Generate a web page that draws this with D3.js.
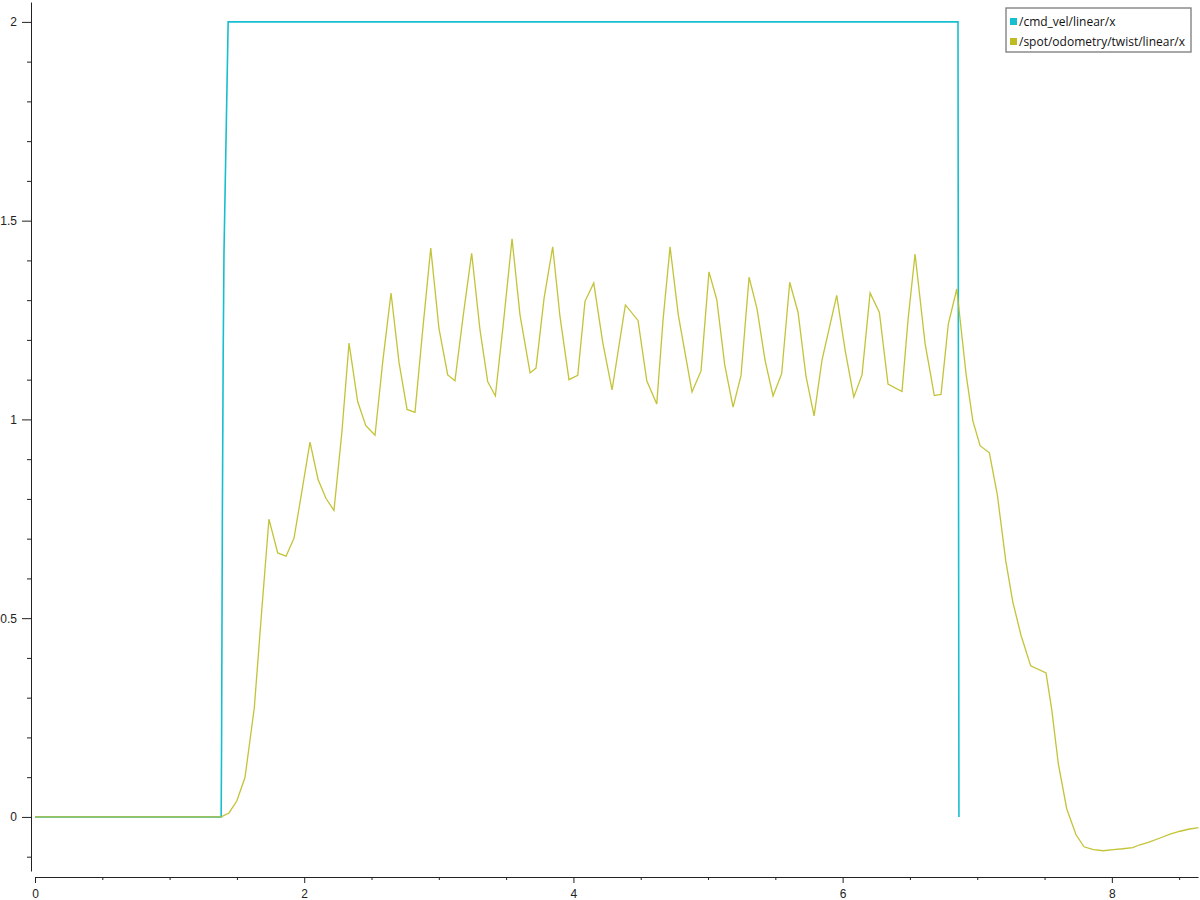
<!DOCTYPE html>
<html>
<head>
<meta charset="utf-8">
<script src="https://cdn.jsdelivr.net/npm/d3@7"></script>
<style>
  body { margin: 0; background: #fff; }
  svg { display: block; font-family: "Open Sans", sans-serif; }
  .tick text { font-size: 12px; fill: #222; }
  .axis path, .axis line { stroke: #222; }
</style>
</head>
<body>
<div id="chart"></div>
<script>
// series names (legend)
var seriesNames = ["/cmd_vel/linear/x", "/spot/odometry/twist/linear/x"];
var seriesColors = ["#17becf", "#bcbd22"];

// /cmd_vel/linear/x
var cmdTime  = [0, 1.383, 1.386, 1.392, 1.398, 1.404, 1.435, 6.857, 6.864];
var cmdValue = [0, 0,     0.18,  0.76,  1.16,  1.42,  2,     2,     0];

// /spot/odometry/twist/linear/x
var odomTime = [0, 1.383, 1.441, 1.499, 1.560, 1.629, 1.684, 1.738, 1.803, 1.865, 1.924,
  1.981, 2.043, 2.103, 2.162, 2.221, 2.279, 2.333, 2.397, 2.457, 2.526,
  2.583, 2.645, 2.704, 2.764, 2.823, 2.880, 2.940, 3.001, 3.066, 3.120,
  3.180, 3.244, 3.306, 3.363, 3.420, 3.484, 3.544, 3.603, 3.678, 3.722,
  3.782, 3.846, 3.900, 3.967, 4.032, 4.086, 4.151, 4.218, 4.287, 4.386,
  4.480, 4.545, 4.619, 4.666, 4.718, 4.779, 4.881, 4.948, 5.007, 5.065,
  5.124, 5.186, 5.245, 5.305, 5.364, 5.423, 5.483, 5.547, 5.607, 5.669,
  5.728, 5.788, 5.847, 5.956, 6.018, 6.083, 6.144, 6.204, 6.273, 6.337,
  6.441, 6.486, 6.538, 6.612, 6.681, 6.731, 6.785, 6.848, 6.917, 6.967,
  7.021, 7.090, 7.149, 7.212, 7.264, 7.325, 7.397, 7.511, 7.553, 7.603,
  7.665, 7.734, 7.793, 7.863, 7.937, 8.011, 8.081, 8.155, 8.209, 8.271,
  8.358, 8.432, 8.507, 8.568, 8.643];
var odomValue = [0, 0, 0.010, 0.040, 0.099, 0.274, 0.517, 0.749, 0.664, 0.656, 0.701,
  0.816, 0.943, 0.849, 0.801, 0.771, 0.965, 1.192, 1.045, 0.985, 0.960,
  1.144, 1.318, 1.144, 1.025, 1.018, 1.224, 1.431, 1.229, 1.112, 1.097,
  1.258, 1.418, 1.225, 1.095, 1.059, 1.256, 1.454, 1.263, 1.117, 1.129,
  1.305, 1.434, 1.259, 1.100, 1.111, 1.297, 1.343, 1.193, 1.074, 1.288,
  1.249, 1.097, 1.039, 1.251, 1.434, 1.263, 1.069, 1.122, 1.371, 1.301,
  1.137, 1.031, 1.110, 1.358, 1.278, 1.150, 1.059, 1.115, 1.345, 1.269,
  1.108, 1.009, 1.150, 1.312, 1.175, 1.056, 1.112, 1.318, 1.269, 1.089,
  1.070, 1.251, 1.416, 1.192, 1.060, 1.063, 1.240, 1.328, 1.114, 0.997,
  0.934, 0.916, 0.811, 0.644, 0.541, 0.457, 0.380, 0.362, 0.271, 0.132,
  0.020, -0.045, -0.075, -0.082, -0.085, -0.082, -0.080, -0.077, -0.070, -0.064,
  -0.053, -0.043, -0.036, -0.031, -0.027];

// axis ticks
var xMajorTicks = [0, 2, 4, 6, 8];
var xMinorTicks = [0.5, 1, 1.5, 2.5, 3, 3.5, 4.5, 5, 5.5, 6.5, 7, 7.5, 8.5];
var yMajorTicks = [0, 0.5, 1, 1.5, 2];
var yTickLabels = ["0", "0.5", "1", "1.5", "2"];
var yMinorTicks = [-0.1, 0.1, 0.2, 0.3, 0.4, 0.6, 0.7, 0.8, 0.9, 1.1, 1.2, 1.3, 1.4, 1.6, 1.7, 1.8, 1.9];

var svgWidth = 1200, svgHeight = 900;
var plot = { left: 35, right: 1198, top: 2, bottom: 871 };

var svg = d3.select("#chart").append("svg")
  .attr("width", svgWidth)
  .attr("height", svgHeight);

var xScale = d3.scaleLinear().domain([0, 8.64]).range([plot.left, plot.right]);
var yScale = d3.scaleLinear().domain([-0.136, 2.05]).range([plot.bottom, plot.top]);

// y axis: major + minor ticks
var yAxisG = svg.append("g").attr("class", "axis")
  .attr("transform", "translate(31,0)")
  .call(d3.axisLeft(yScale).tickValues(yMajorTicks).tickSize(9).tickSizeOuter(0)
    .tickPadding(5)
    .tickFormat(function(d, i) { return yTickLabels[i]; }));
svg.append("g").attr("class", "axis")
  .attr("transform", "translate(31,0)")
  .call(d3.axisLeft(yScale).tickValues(yMinorTicks).tickSize(4).tickSizeOuter(0).tickFormat(""))
  .select(".domain").remove();

// x axis
svg.append("g").attr("class", "axis")
  .attr("transform", "translate(0,877)")
  .call(d3.axisBottom(xScale).tickValues(xMajorTicks).tickSize(6).tickSizeOuter(0)
    .tickPadding(6).tickFormat(d3.format("d")));
svg.append("g").attr("class", "axis")
  .attr("transform", "translate(0,877)")
  .call(d3.axisBottom(xScale).tickValues(xMinorTicks).tickSize(3).tickSizeOuter(0).tickFormat(""))
  .select(".domain").remove();

// lines
var line = d3.line()
  .x(function(d) { return xScale(d[0]); })
  .y(function(d) { return yScale(d[1]); });

var cmdData = d3.zip(cmdTime, cmdValue);
var odomData = d3.zip(odomTime, odomValue);

svg.append("path")
  .datum(cmdData)
  .attr("fill", "none")
  .attr("stroke", seriesColors[0])
  .attr("stroke-width", 1.6)
  .attr("d", line);

svg.append("path")
  .datum(odomData)
  .attr("fill", "none")
  .attr("stroke", seriesColors[1])
  .attr("stroke-width", 1.3)
  .attr("stroke-opacity", 0.9)
  .attr("d", line);

// legend
var legend = svg.append("g").attr("transform", "translate(1006,8)");
legend.append("rect")
  .attr("width", 185).attr("height", 44)
  .attr("fill", "#fff")
  .attr("stroke", "#7a7a7a")
  .attr("stroke-width", 1.3);

seriesNames.forEach(function(name, i) {
  var row = legend.append("g").attr("transform", "translate(4," + (10 + i * 20) + ")");
  row.append("rect").attr("width", 7).attr("height", 7).attr("fill", seriesColors[i]);
  row.append("text")
    .attr("x", 9).attr("y", 8)
    .attr("font-size", 12)
    .attr("fill", "#111")
    .text(name);
});
</script>
</body>
</html>
